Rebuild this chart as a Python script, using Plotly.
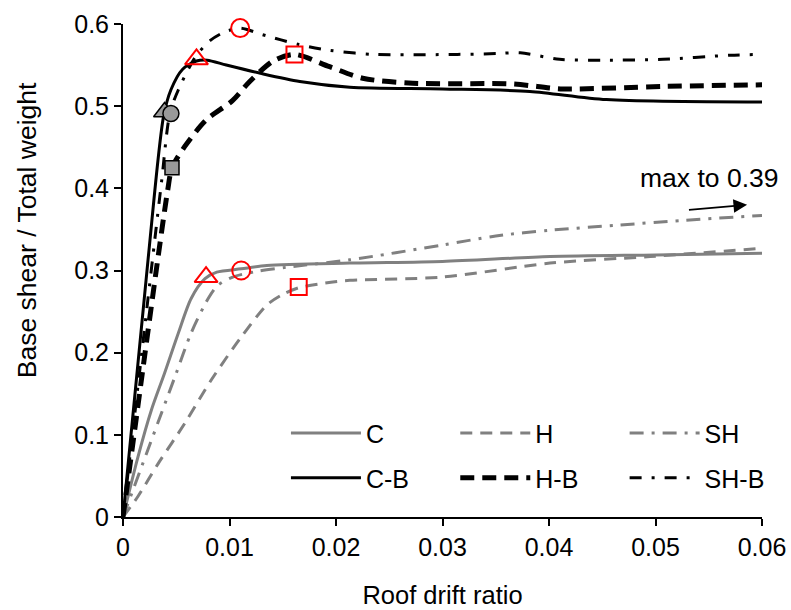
import plotly.graph_objects as go

# ---------------- data ----------------
c_x = [0, 0.0014, 0.00266, 0.0039, 0.0052, 0.0064, 0.0077, 0.0088, 0.0111, 0.0135, 0.0213, 0.03, 0.0401, 0.05, 0.06]
c_y = [0, 0.073, 0.130, 0.175, 0.224, 0.266, 0.290, 0.298, 0.302, 0.306, 0.309, 0.311, 0.317, 0.319, 0.321]

h_x = [0, 0.0014, 0.0033, 0.0058, 0.0083, 0.0111, 0.0135, 0.015, 0.0165, 0.0197, 0.0213, 0.03, 0.0401, 0.0495, 0.06]
h_y = [0, 0.025, 0.065, 0.114, 0.167, 0.219, 0.258, 0.271, 0.279, 0.286, 0.288, 0.292, 0.309, 0.317, 0.327]

sh_x = [0, 0.0022, 0.0036, 0.005, 0.0064, 0.008, 0.0089, 0.0103, 0.0126, 0.0154, 0.0213, 0.03, 0.035, 0.0401, 0.0463, 0.0526, 0.06]
sh_y = [0, 0.077, 0.126, 0.175, 0.224, 0.266, 0.282, 0.292, 0.299, 0.304, 0.313, 0.331, 0.342, 0.349, 0.355, 0.361, 0.367]

cb_x = [0, 0.00235, 0.0038, 0.0045, 0.0056, 0.0069, 0.0079, 0.0097, 0.0129, 0.0166, 0.0213, 0.03, 0.0382, 0.0454, 0.06]
cb_y = [0, 0.313, 0.487, 0.520, 0.545, 0.555, 0.556, 0.550, 0.540, 0.530, 0.523, 0.521, 0.518, 0.508, 0.505]

hb_x = [0, 0.0033, 0.0042, 0.0046, 0.0058, 0.0078, 0.0103, 0.0119, 0.0141, 0.0161, 0.0194, 0.0225, 0.0272, 0.0366, 0.0389, 0.0413, 0.0507, 0.06]
hb_y = [0, 0.317, 0.398, 0.425, 0.451, 0.483, 0.507, 0.530, 0.555, 0.563, 0.548, 0.534, 0.528, 0.527, 0.524, 0.521, 0.524, 0.526]

shb_x = [0, 0.0036, 0.0044, 0.0052, 0.0068, 0.0082, 0.0095, 0.011, 0.0131, 0.0165, 0.0194, 0.0235, 0.0314, 0.0351, 0.0373, 0.041, 0.0451, 0.0507, 0.057, 0.06]
shb_y = [0, 0.406, 0.491, 0.520, 0.560, 0.580, 0.590, 0.595, 0.587, 0.575, 0.568, 0.563, 0.563, 0.564, 0.565, 0.557, 0.556, 0.557, 0.562, 0.563]

# grey (filled) markers: triangle, circle, square
grey_tri = (0.0039, 0.493)
grey_cir = (0.0045, 0.491)
grey_sq = (0.0046, 0.425)
# red (open) markers
red_tri_x = [0.0069, 0.0078]
red_tri_y = [0.557, 0.292]
red_cir_x = [0.011, 0.0111]
red_cir_y = [0.595, 0.300]
red_sq_x = [0.0161, 0.0165]
red_sq_y = [0.563, 0.280]

GREY = "#808080"
FONT = "Liberation Sans, Arial, sans-serif"
FS = 25

fig = go.Figure()

def add_line(x, y, name, color, width, dash, legend):
    fig.add_trace(go.Scatter(x=x, y=y, mode="lines", name=name,
                             line=dict(color=color, width=width, dash=dash, shape="spline", smoothing=0.8),
                             legend=legend))

add_line(c_x, c_y, "C", GREY, 3, "solid", "legend")
add_line(h_x, h_y, "H", GREY, 3, "12px,8px", "legend2")
add_line(sh_x, sh_y, "SH", GREY, 3, "14px,8px,3px,8px", "legend3")
add_line(cb_x, cb_y, "C-B", "black", 3, "solid", "legend4")
add_line(hb_x, hb_y, "H-B", "black", 5, "14px,8px", "legend5")
add_line(shb_x, shb_y, "SH-B", "black", 3, "12px,10px,3px,10px", "legend6")

mk = dict(mode="markers", showlegend=False, cliponaxis=False)
# grey markers
fig.add_trace(go.Scatter(x=[grey_tri[0]], y=[grey_tri[1]], **mk,
                         marker=dict(symbol="triangle-up", size=19, color="#999999", line=dict(color="black", width=1.5))))
fig.add_trace(go.Scatter(x=[grey_cir[0]], y=[grey_cir[1]], **mk,
                         marker=dict(symbol="circle", size=16, color="#999999", line=dict(color="black", width=1.5))))
fig.add_trace(go.Scatter(x=[grey_sq[0]], y=[grey_sq[1]], **mk,
                         marker=dict(symbol="square", size=14, color="#999999", line=dict(color="black", width=1.5))))
# red markers
fig.add_trace(go.Scatter(x=red_tri_x, y=red_tri_y, **mk,
                         marker=dict(symbol="triangle-up-open", size=20, color="red", line=dict(color="red", width=2))))
fig.add_trace(go.Scatter(x=red_cir_x, y=red_cir_y, **mk,
                         marker=dict(symbol="circle-open", size=18, color="red", line=dict(color="red", width=2))))
fig.add_trace(go.Scatter(x=red_sq_x, y=red_sq_y, **mk,
                         marker=dict(symbol="square-open", size=16, color="red", line=dict(color="red", width=2))))

# annotation arrow
fig.add_annotation(x=0.0586, y=0.380, ax=0.0530, ay=0.3736, xref="x", yref="y", axref="x", ayref="y",
                   text="", showarrow=True, arrowhead=2, arrowsize=1.7, arrowwidth=1.6, arrowcolor="black")
fig.add_annotation(x=0.0550, y=0.4126, xref="x", yref="y", text="max to 0.39", showarrow=False,
                   font=dict(size=26.5, color="black", family=FONT))

# y-axis title (placed as in reference, above plot centre)
fig.add_annotation(x=-0.150, y=0.582, xref="paper", yref="paper", text="Base shear / Total weight",
                   textangle=-90, showarrow=False, xanchor="center", yanchor="middle",
                   font=dict(size=26.5, color="black", family=FONT))

# legends: one per entry, 3 columns x 2 rows
col_x = [0.255, 0.52, 0.785]
row_y = [0.170, 0.079]
leg_common = dict(orientation="h", xanchor="left", yanchor="middle", itemwidth=70,
                  bgcolor="rgba(0,0,0,0)", font=dict(size=FS, family=FONT), borderwidth=0)
legends = {}
names = ["legend", "legend2", "legend3", "legend4", "legend5", "legend6"]
for i, nm in enumerate(names):
    legends[nm] = dict(x=col_x[i % 3], y=row_y[i // 3], **leg_common)

fig.update_layout(
    width=791, height=610,
    margin=dict(l=123, r=29, t=24, b=93, autoexpand=False),
    plot_bgcolor="white", paper_bgcolor="white",
    font=dict(family=FONT, size=FS, color="black"),
    **legends,
)
fig.update_xaxes(range=[0, 0.06], dtick=0.01, tick0=0, showgrid=False, zeroline=False,
                 showline=True, linecolor="black", linewidth=2, ticks="outside", ticklen=7,
                 tickwidth=2, tickcolor="black", automargin=False,
                 title=dict(text="Roof drift ratio", standoff=26, font=dict(size=25.5)))
fig.update_yaxes(range=[0, 0.6], dtick=0.1, tick0=0, showgrid=False, zeroline=False,
                 showline=True, linecolor="black", linewidth=2, ticks="outside", ticklen=7,
                 tickwidth=2, tickcolor="black", automargin=False)

fig.write_html("out.html")
